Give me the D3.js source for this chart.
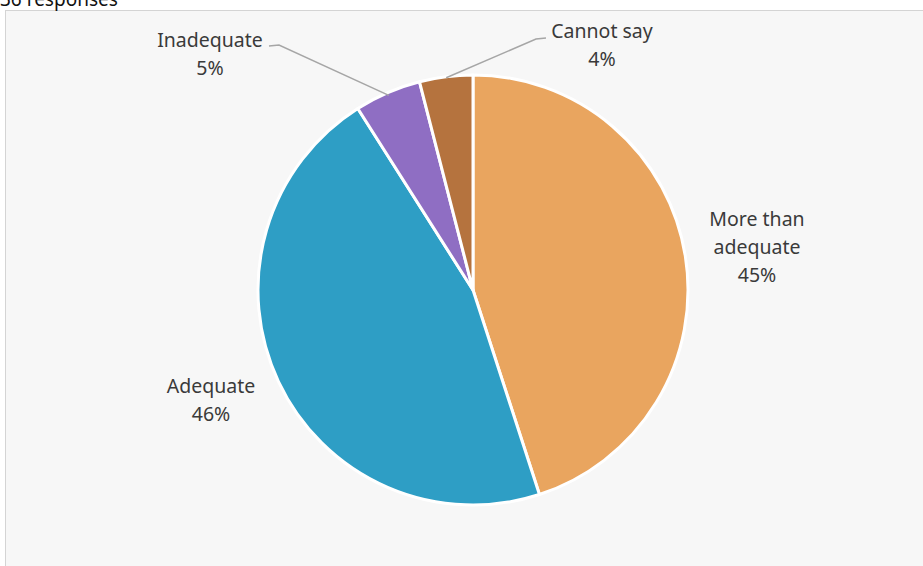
<!DOCTYPE html>
<html>
<head>
<meta charset="utf-8">
<script src="https://cdn.jsdelivr.net/npm/d3@7"></script>
<style>
  html, body { margin: 0; padding: 0; background: #ffffff; }
  svg { display: block; }
</style>
</head>
<body>
<svg id="chart" width="923" height="566"></svg>
<script>
const categories = ["More than adequate", "Adequate", "Inadequate", "Cannot say"];
const values = [45, 46, 5, 4];
const labelLines = [["More than", "adequate", "45%"], ["Adequate", "46%"], ["Inadequate", "5%"], ["Cannot say", "4%"]];
const colors = ["#E9A55F", "#2E9EC5", "#8F6EC3", "#B5733E"];
const subtitle = "36 responses";

const W = 923, H = 566;
const svg = d3.select("#chart");

// panel background and border
svg.append("rect").attr("x", 5.5).attr("y", 10.5).attr("width", W).attr("height", H)
  .attr("fill", "#f7f7f7").attr("stroke", "#d4d4d4").attr("stroke-width", 1);

// subtitle, cut off at the top as in the reference
svg.append("text").attr("x", 0).attr("y", 6)
  .attr("font-family", "Noto Sans, sans-serif").attr("font-size", 19).attr("fill", "#111")
  .text(subtitle);

const cx = 473, cy = 290, R = 215;
const g = svg.append("g").attr("transform", `translate(${cx},${cy})`);

const pie = d3.pie().sort(null).value(d => d.v);
const arcs = pie(categories.map((c, i) => ({ c, v: values[i], i })));
const arc = d3.arc().innerRadius(0).outerRadius(R);

g.selectAll("path.slice").data(arcs).join("path")
  .attr("class", "slice")
  .attr("d", arc)
  .attr("fill", d => colors[d.data.i])
  .attr("stroke", "#ffffff")
  .attr("stroke-width", 3)
  .attr("stroke-linejoin", "round");

const labelPos = [[757, 219], [211, 386], [210, 40], [602, 31]];
const lh = 28;
const font = "Noto Sans, sans-serif";

arcs.forEach(d => {
  const i = d.data.i;
  const lines = labelLines[i];
  const [lx, ly] = labelPos[i];
  const t = svg.append("text")
    .attr("font-family", font).attr("font-size", 19.5).attr("fill", "#3a3a3a")
    .attr("text-anchor", "middle");
  lines.forEach((s, j) => {
    t.append("tspan").attr("x", lx).attr("y", ly + j * lh).attr("dy", "0.35em").text(s);
  });
});

const leader = d3.line();
function edgePoint(d, r) {
  const a = (d.startAngle + d.endAngle) / 2;
  return [cx + Math.sin(a) * r, cy - Math.cos(a) * r];
}
const inad = arcs[2], cannot = arcs[3];
const p1 = edgePoint(inad, R - 3);
svg.append("path")
  .attr("d", leader([[269, 46], [279, 45], p1]))
  .attr("fill", "none").attr("stroke", "#a6a6a6").attr("stroke-width", 1.5);
const p2 = edgePoint(cannot, R - 1);
svg.append("path")
  .attr("d", leader([[546, 38], [536, 39], p2]))
  .attr("fill", "none").attr("stroke", "#a6a6a6").attr("stroke-width", 1.5);
</script>
</body>
</html>
